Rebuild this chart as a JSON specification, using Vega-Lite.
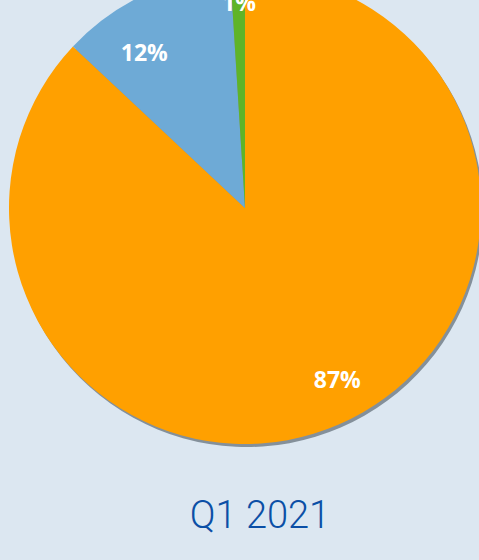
{
  "$schema": "https://vega.github.io/schema/vega-lite/v6.json",
  "width": 468,
  "height": 416,
  "autosize": {"type": "none"},
  "padding": {"left": 11, "top": 0, "right": 0, "bottom": 144},
  "background": "#dce7f1",
  "config": {"view": {"stroke": null}},
  "title": {
    "text": "Q1 2021",
    "orient": "bottom",
    "anchor": "middle",
    "baseline": "alphabetic",
    "offset": 81,
    "dx": 15,
    "font": "Roboto",
    "fontWeight": 300,
    "fontSize": 38,
    "color": "#0b4fa6"
  },
  "data": {
    "values": [
      {"segment": "A", "share": 87, "label": "87%", "order": 1},
      {"segment": "B", "share": 12, "label": "12%", "order": 2},
      {"segment": "C", "share": 1, "label": "1%", "order": 3}
    ]
  },
  "layer": [
    {
      "mark": {"type": "arc", "outerRadius": 236, "xOffset": 2, "yOffset": 3, "fill": "#4a5660", "opacity": 0.6},
      "encoding": {
        "theta": {"field": "share", "type": "quantitative", "stack": true},
        "order": {"field": "order", "type": "quantitative"}
      }
    },
    {
      "mark": {"type": "arc", "outerRadius": 236},
      "encoding": {
        "theta": {"field": "share", "type": "quantitative", "stack": true},
        "order": {"field": "order", "type": "quantitative"},
        "color": {
          "field": "segment",
          "type": "nominal",
          "scale": {"domain": ["A", "B", "C"], "range": ["#ffa000", "#6eaad6", "#5fb428"]},
          "legend": null
        }
      }
    },
    {
      "mark": {
        "type": "text",
        "radius": 192,
        "dx": {"expr": "datum.segment === 'A' ? 16 : datum.segment === 'B' ? -19 : 0"},
        "dy": {"expr": "datum.segment === 'A' ? -3 : datum.segment === 'B' ? 20 : -12"},
        "font": "Open Sans",
        "fontWeight": "bold",
        "fontSize": 23,
        "fill": "white"
      },
      "encoding": {
        "theta": {"field": "share", "type": "quantitative", "stack": true},
        "order": {"field": "order", "type": "quantitative"},
        "text": {"field": "label"}
      }
    }
  ]
}
